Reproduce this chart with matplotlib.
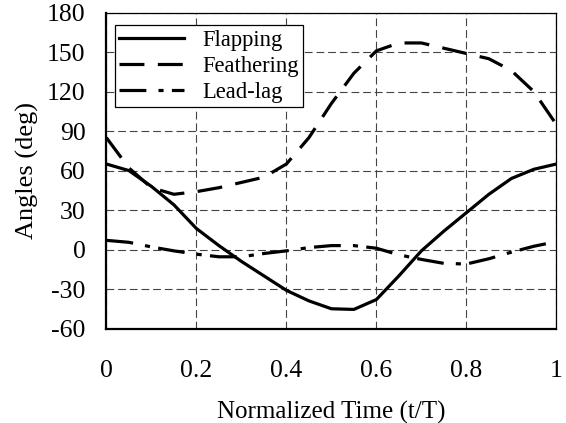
import matplotlib
matplotlib.use("Agg")
import matplotlib.pyplot as plt

plt.rcParams['font.family'] = ['Liberation Serif', 'DejaVu Serif']
plt.rcParams['axes.unicode_minus'] = False

# normalized time samples
t = [0.0, 0.05, 0.1, 0.15, 0.2, 0.25, 0.3, 0.35, 0.4, 0.45, 0.5,
     0.55, 0.6, 0.65, 0.7, 0.75, 0.8, 0.85, 0.9, 0.95, 1.0]

# angles in degrees
flapping = [65, 60, 48, 34, 16, 3, -9, -20, -31, -39, -45,
            -45.5, -38, -20, -1, 14, 28, 42, 54, 61, 65]
feathering = [85, 62, 47, 42, 44, 47, 51, 55, 65, 85, 111,
              134, 151, 157, 157, 153, 149, 145, 136, 120, 95]
lead_lag = [7, 5.5, 2, -1, -3.5, -5.5, -5.5, -3, -1, 1.5, 3,
            3, 1, -4, -7.5, -10.5, -11, -7, -2, 2.5, 6]

x_ticks = [0, 0.2, 0.4, 0.6, 0.8, 1.0]
x_tick_labels = ['0', '0.2', '0.4', '0.6', '0.8', '1']
y_ticks = [-60, -30, 0, 30, 60, 90, 120, 150, 180]

fig = plt.figure(figsize=(5.66, 4.23), dpi=100)
ax = fig.add_axes([0.188, 0.2234, 0.795, 0.7466])

ax.plot(t, flapping, color='black', lw=2.3, label='Flapping')
ax.plot(t, feathering, color='black', lw=2.3, dashes=(7.8, 4.2), label='Feathering')
ax.plot(t, lead_lag, color='black', lw=2.3, dashes=(8.4, 3.8, 1.6, 2.6), label='Lead-lag')

ax.set_xlim(0, 1)
ax.set_ylim(-60, 180)
ax.set_xticks(x_ticks)
ax.set_xticklabels(x_tick_labels)
ax.set_yticks(y_ticks)
ax.tick_params(length=0, labelsize=18.5)
ax.tick_params(axis='x', pad=23)
ax.tick_params(axis='y', pad=15)

ax.grid(True, color='#444444', lw=0.8, dashes=(7, 3.5))

for side in ['left', 'bottom']:
    ax.spines[side].set_linewidth(1.6)
for side in ['top', 'right']:
    ax.spines[side].set_linewidth(0.9)

ax.set_xlabel('Normalized Time (t/T)', fontsize=18, labelpad=13)
ax.set_ylabel('Angles (deg)', fontsize=19, labelpad=6)

leg = ax.legend(loc='upper left', bbox_to_anchor=(0.0189, 0.9604), borderaxespad=0,
                fontsize=16.3, handlelength=2.85, handletextpad=0.8,
                labelspacing=0.22, borderpad=0.2, fancybox=False, framealpha=1)
leg.get_frame().set_edgecolor('black')
leg.get_frame().set_linewidth(0.9)

fig.savefig('out.png', dpi=100)
